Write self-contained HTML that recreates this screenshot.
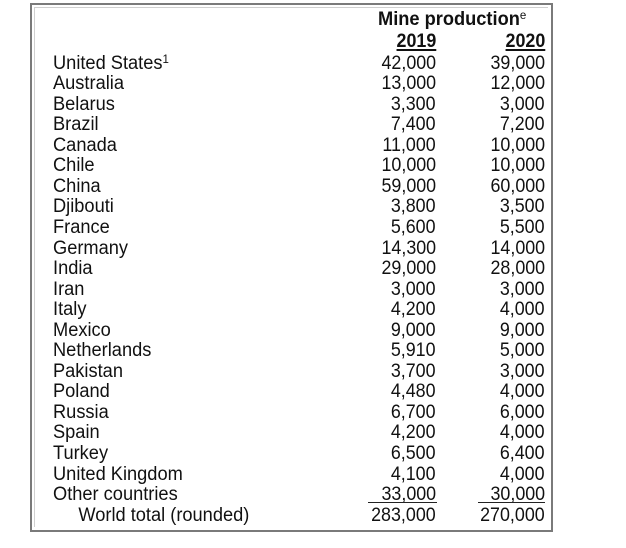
<!DOCTYPE html>
<html><head><meta charset="utf-8"><style>
html,body{margin:0;padding:0;background:#fff;}
body{width:626px;height:548px;position:relative;overflow:hidden;font-family:"Liberation Sans",Arial,sans-serif;color:#111;}
.box{position:absolute;left:30px;top:3px;width:519px;height:525px;border:2px solid #7a7a7a;}
.inner{position:absolute;left:34px;top:7px;width:513px;height:519px;border:1px solid #d0d0d0;border-bottom:none;border-right:none;}
.r{position:absolute;height:21px;line-height:21px;font-size:19px;white-space:nowrap;}
.l{left:53px;transform:scaleX(0.96);transform-origin:left center;}
.a{right:190px;text-align:right;transform:scaleX(0.94);transform-origin:right center;}
.b{right:81px;text-align:right;transform:scaleX(0.94);transform-origin:right center;}
sup{font-size:12px;vertical-align:top;position:relative;top:-4px;}
.h{font-weight:bold;}
.u{text-decoration:underline;text-decoration-thickness:2px;text-underline-offset:2px;}
.line{position:absolute;height:1px;background:#222;}
</style></head><body>
<div class="box"></div><div class="inner"></div>
<div class="r h" style="left:378px;top:9px;transform:scaleX(0.96);transform-origin:left center;">Mine production<sup style="font-weight:normal">e</sup></div>
<div class="r h a u" style="top:31px;">2019</div>
<div class="r h b u" style="top:31px;">2020</div>
<div id="rows"></div>
<div class="line" style="left:368px;width:69px;top:502px;"></div>
<div class="line" style="left:478px;width:67px;top:502px;"></div>
<script>
var d=[["United States<sup>1</sup>","42,000","39,000"],["Australia","13,000","12,000"],["Belarus","3,300","3,000"],["Brazil","7,400","7,200"],["Canada","11,000","10,000"],["Chile","10,000","10,000"],["China","59,000","60,000"],["Djibouti","3,800","3,500"],["France","5,600","5,500"],["Germany","14,300","14,000"],["India","29,000","28,000"],["Iran","3,000","3,000"],["Italy","4,200","4,000"],["Mexico","9,000","9,000"],["Netherlands","5,910","5,000"],["Pakistan","3,700","3,000"],["Poland","4,480","4,000"],["Russia","6,700","6,000"],["Spain","4,200","4,000"],["Turkey","6,500","6,400"],["United Kingdom","4,100","4,000"],["Other countries","33,000","30,000"],["&nbsp;&nbsp;&nbsp;&nbsp;&nbsp;World total (rounded)","283,000","270,000"]];
var h="";
for(var i=0;i<d.length;i++){var t=(52.5+20.55*i).toFixed(1);
h+='<div class="r l" style="top:'+t+'px">'+d[i][0]+'</div><div class="r a" style="top:'+t+'px">'+d[i][1]+'</div><div class="r b" style="top:'+t+'px">'+d[i][2]+'</div>';}
document.getElementById("rows").innerHTML=h;
</script>
</body></html>
